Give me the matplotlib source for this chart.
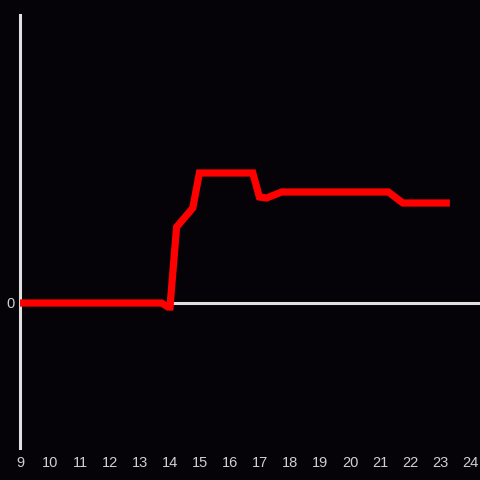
import matplotlib.pyplot as plt

# uur van de dag en waarde (0 = basislijn)
hours = [9, 13.72, 13.93, 14.0, 14.22, 14.76, 14.98, 16.76, 16.98, 17.22, 17.72, 21.28, 21.76, 23.33]
values = [0, 0, -4, -4, 76, 95, 130, 130, 106, 105, 111, 111, 100, 100]
xticks = list(range(9, 25))

bg = '#050307'
axis_col = '#e0e0e0'

fig = plt.figure(figsize=(4.8, 4.8), dpi=100, facecolor=bg)
ax = fig.add_axes([20 / 480, 1 - 448 / 480, 1 - 20 / 480, (448 - 15) / 480])
ax.set_facecolor(bg)

ax.axhline(0, color=axis_col, lw=2.2, zorder=1)
ax.plot(hours, values, color='#ff0000', lw=5.2, solid_joinstyle='miter',
        solid_capstyle='butt', zorder=3)

ax.set_xlim(9, 9 + 460 / 30)
ax.set_ylim(-145, 288)

for s in ['top', 'right', 'bottom']:
    ax.spines[s].set_visible(False)
ax.spines['left'].set_color(axis_col)
ax.spines['left'].set_linewidth(2.2)

ax.set_xticks(xticks)
ax.set_yticks([0])
ax.tick_params(length=0, colors='#d0d0d0', labelsize=10.5)
ax.tick_params(axis='x', pad=6)
ax.tick_params(axis='y', pad=4)
for lbl in ax.get_xticklabels() + ax.get_yticklabels():
    lbl.set_family('Liberation Sans')

fig.savefig('out.png', dpi=100, facecolor=bg)
